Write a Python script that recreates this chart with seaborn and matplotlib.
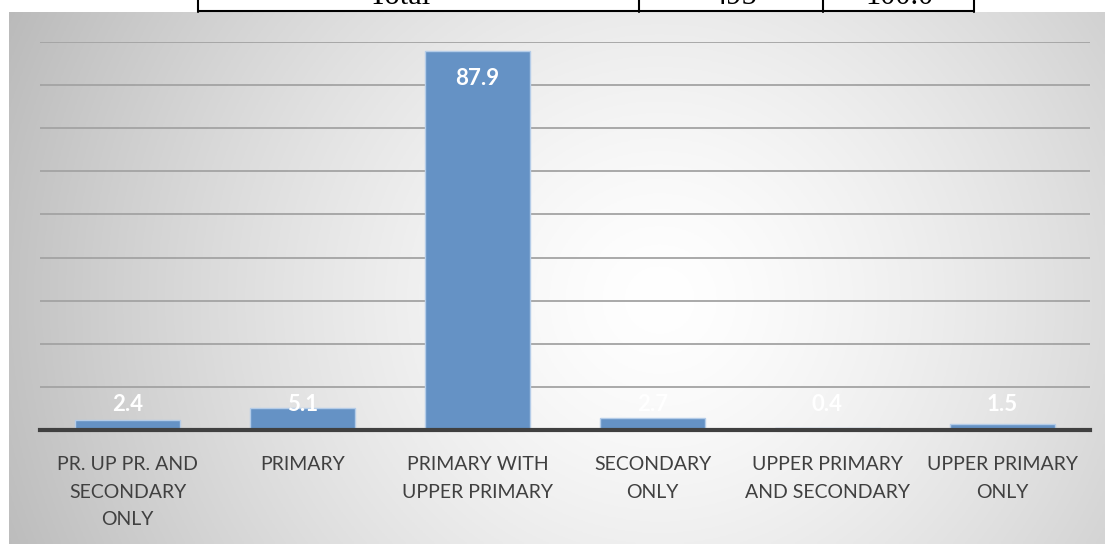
import numpy as np
import matplotlib
matplotlib.use("Agg")
import matplotlib.pyplot as plt
import seaborn as sns
from matplotlib.lines import Line2D

# ---- data ----
categories = ["PR. UP PR. AND\nSECONDARY\nONLY", "PRIMARY", "PRIMARY WITH\nUPPER PRIMARY",
              "SECONDARY\nONLY", "UPPER PRIMARY\nAND SECONDARY", "UPPER PRIMARY\nONLY"]
values = [2.4, 5.1, 87.9, 2.7, 0.4, 1.5]
table_cells = ["Total", "495", "100.0"]

sns.set_theme(style="white")
plt.rcParams['font.family'] = ['Lato', 'DejaVu Sans']

W, H = 1105, 544
fig = plt.figure(figsize=(W / 100, H / 100), dpi=100)
fig.patch.set_facecolor("white")

# ---- background panel with radial gradient ----
px0, py_top = 9, 12
bg = fig.add_axes([px0 / W, 0, 1 - px0 / W, (H - py_top) / H])
xs = np.linspace(px0, W, 400)
ys = np.linspace(py_top, H, 200)
X, Y = np.meshgrid(xs, ys)
r = np.sqrt(((X - 660) / 640) ** 2 + ((Y - 300) / 620) ** 2)
inten = 1 - 0.23 * np.clip(r, 0, 1.2) ** 1.4
img = np.dstack([inten] * 3)
bg.imshow(img, aspect="auto", extent=[0, 1, 0, 1], origin="upper")
bg.set_axis_off()

# ---- main axes ----
ax = fig.add_axes([40 / W, (H - 430) / H, 1050 / W, 388 / H])
ax.patch.set_alpha(0)
sns.barplot(x=categories, y=values, color="#6592C5", width=0.6, ax=ax,
            edgecolor="#B4CCE8", linewidth=1.0, saturation=1, zorder=2)
ax.set_xlim(-0.5, 5.5)
ax.set_ylim(0, 90)
ax.set_yticks(np.arange(0, 91, 10))
ax.yaxis.grid(True, color="#A3A3A3", linewidth=1.3)
ax.set_axisbelow(True)
ax.tick_params(axis="y", left=False, labelleft=False)
ax.tick_params(axis="x", bottom=False, pad=13, labelsize=14, labelcolor="#404040")
for lab in ax.get_xticklabels():
    lab.set_linespacing(1.75)
for s in ["top", "right", "left"]:
    ax.spines[s].set_visible(False)
ax.spines["bottom"].set_color("#404040")
ax.spines["bottom"].set_linewidth(3)
ax.spines["bottom"].set_zorder(3)
ax.set_xlabel("")
ax.set_ylabel("")

# data labels
for i, v in enumerate(values):
    ylab = v - 6.4 if v > 20 else 5.8
    ax.text(i, ylab, f"{v:.1f}", ha="center", va="center", color="white",
            fontsize=16, fontweight="bold", zorder=4)

# ---- cropped table remnant at top ----
def fx(p):
    return p / W

def fy(p):
    return 1 - p / H

for xv in [198, 639, 823, 974]:
    fig.add_artist(Line2D([fx(xv), fx(xv)], [fy(0), fy(11.5)], color="black", lw=1.5))
fig.add_artist(Line2D([fx(198), fx(974)], [fy(11.3), fy(11.3)], color="black", lw=1.5))
for txt, xc in zip(table_cells, [400, 734, 899]):
    fig.text(fx(xc), fy(3.5), txt, ha="center", va="baseline", fontsize=22,
             family=["Liberation Serif", "DejaVu Serif"], color="black")

fig.savefig("out.png", dpi=100)
